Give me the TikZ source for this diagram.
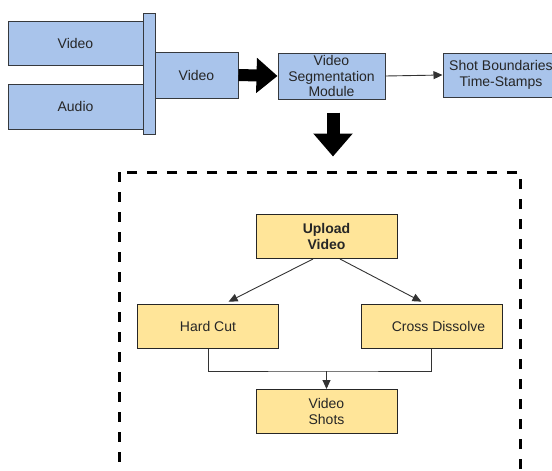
\documentclass[tikz,border=0pt]{standalone}
\usepackage{fontspec}
\setmainfont{Liberation Sans}
\usetikzlibrary{positioning,arrows.meta,calc}
\definecolor{boxblue}{HTML}{A9C4EB}
\definecolor{boxyellow}{HTML}{FFE599}
\definecolor{edgegray}{HTML}{36393D}

\begin{document}
\begin{tikzpicture}[x=1pt,y=-1pt,
  every node/.style={font=\fontsize{14}{15.5}\selectfont, text=black!85},
  bluebox/.style={draw=edgegray, fill=boxblue, line width=1pt, align=center, inner sep=0pt},
  yelbox/.style={draw=black!85, fill=boxyellow, line width=1pt, align=center, inner sep=0pt,
    minimum width=141pt, minimum height=44pt},
  bigarrow/.style={line width=12pt, -{Triangle[length=21pt,width=34pt]}},
  thin/.style={draw=black!80, line width=0.9pt},
  tip/.style={-{Triangle[length=9pt,width=8pt]}}]
  \useasboundingbox (0,0) rectangle (552,471);
  \clip (0,0) rectangle (552,471);
  % inputs
  \node[bluebox, minimum width=135pt, minimum height=44pt] (vidin) at (75.5,43) {Video};
  \node[bluebox, minimum width=135pt, minimum height=45pt] (audin) at (75.5,106.5) {Audio};
  \node[bluebox, minimum width=12pt, minimum height=121pt] (bar) at (149,73.5) {};
  \node[bluebox, minimum width=83pt, minimum height=46pt] (vidout) at (196.5,75) {Video};
  \node[bluebox, minimum width=107pt, minimum height=46pt] (vsm) at (331.5,76) {Video\\Segmentation\\Module};
  \node[bluebox, minimum width=116pt, minimum height=44pt] (shot) at (501,75) {Shot Boundaries\\Time-Stamps};
  \draw[bigarrow] (vidout.east) -- (vsm.west);
  \draw[thin, tip] (vsm.east) -- (shot.west);
  % down arrow
  \coordinate (dntop) at ($(vsm.south)+(1.5,13)$);
  \coordinate (dnend) at ($(vsm.south)+(1.5,57)$);
  \draw[line width=13pt, -{Triangle[length=23pt,width=38pt]}] (dntop) -- (dnend);
  % detail frame
  \draw[line width=3pt, dash pattern=on 10pt off 10pt] (119,172) rectangle (520,520);
  \node[yelbox, font=\fontsize{14}{15.5}\selectfont\bfseries] (upload) at (326.5,236.5) {Upload\\Video};
  \node[yelbox] (hard) at (208,326) {Hard Cut};
  \node[yelbox] (cross) at (431.5,326) {\hspace*{14pt}Cross Dissolve};
  \node[yelbox] (shots) at (326.5,411.5) {Video\\Shots};
  \draw[thin, shorten >=4pt, tip] ($(upload.south)+(-13.5,0)$) -- ($(hard.north)+(17,0)$);
  \draw[thin, shorten >=4pt, tip] ($(upload.south)+(13.5,0)$) -- ($(cross.north)+(-6.5,0)$);
  \coordinate (merge) at (326.5,371);
  \draw[thin] (hard.south) |- (merge) -| (cross.south);
  \draw[thin, tip] (merge) -- (shots.north);
\end{tikzpicture}
\end{document}
